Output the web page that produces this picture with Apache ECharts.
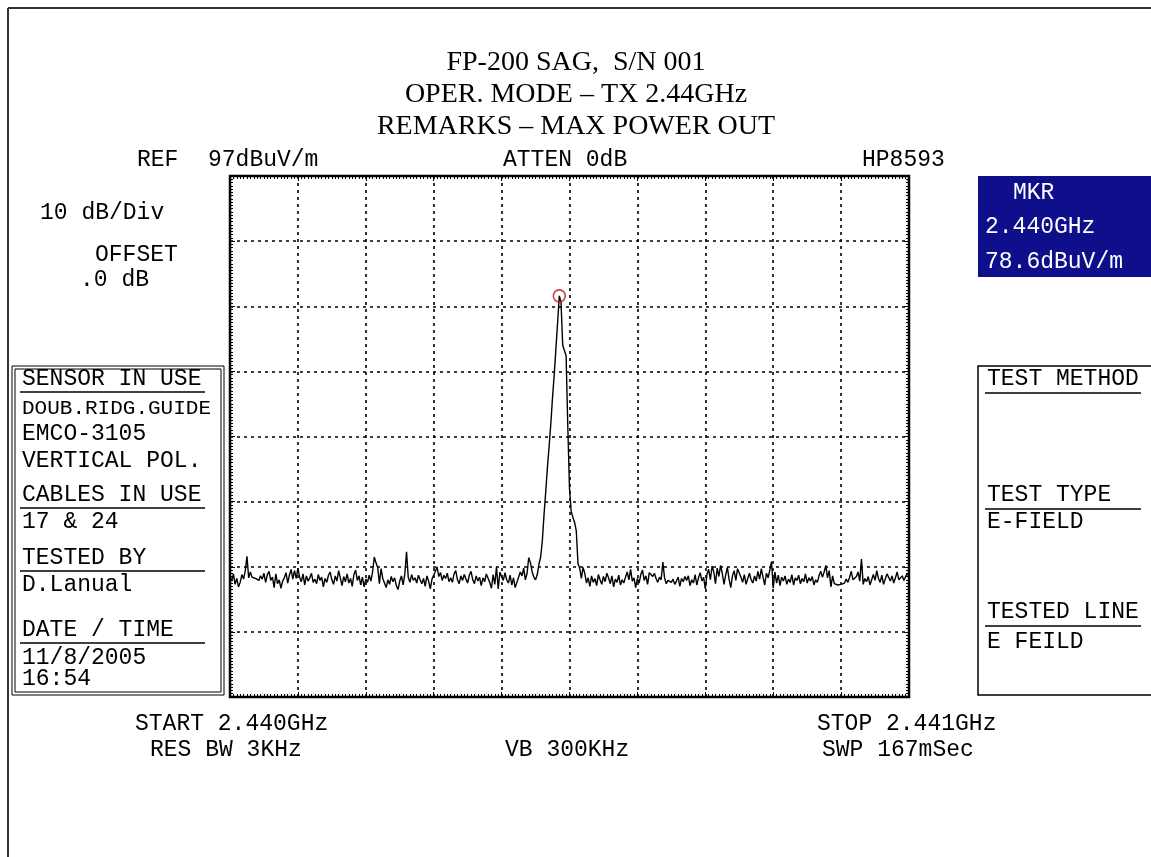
<!DOCTYPE html>
<html>
<head>
<meta charset="utf-8">
<script src="https://cdn.jsdelivr.net/npm/echarts@6/dist/echarts.min.js"></script>
<style>
html,body{margin:0;padding:0;background:#fff;}
#c{width:1151px;height:857px;}
</style>
</head>
<body>
<div id="c"></div>
<script>
// ---- Data ----
const titleLines = ['FP-200 SAG,  S/N 001', 'OPER. MODE \u2013 TX 2.44GHz', 'REMARKS \u2013 MAX POWER OUT'];
const startGHz = 2.440;
const stopGHz = 2.441;
const refLevel = 97;      // dBuV/m, top of screen
const dbPerDiv = 10;
const numYDiv = 8;
const numXDiv = 10;
const markerFreqLabel = '2.440GHz';
const markerLevelLabel = '78.6dBuV/m';
const traceLevels = [
35.6,34.8,35.9,34.3,35.2,33.9,34.6,35.8,35.1,36.4,38.6,35.3,36.2,35.4,35.7,35.2,35.5,34.9,35.6,35.1,
36.0,34.6,35.8,36.3,34.9,35.4,33.8,35.9,34.4,35.0,33.7,34.8,35.3,36.1,34.5,35.7,36.6,35.1,36.4,35.2,
36.8,35.4,34.7,35.9,34.2,35.6,34.8,35.3,36.0,34.6,35.1,34.4,35.8,34.9,35.4,33.9,35.2,34.6,35.7,36.2,
35.0,34.3,35.6,34.8,36.4,35.3,34.1,35.5,34.7,35.9,34.5,35.2,34.0,35.8,36.5,34.9,35.6,34.2,35.4,33.9,
35.1,34.6,35.7,34.8,36.2,38.5,37.6,36.9,34.4,36.7,35.2,34.9,33.8,35.0,34.3,35.5,34.7,35.3,34.1,33.5,
34.8,35.6,34.2,35.9,39.3,35.4,34.6,35.8,34.9,35.3,34.5,35.7,35.0,34.4,35.2,34.0,35.6,34.8,33.6,35.1,
35.4,36.3,37.0,35.5,36.1,34.9,35.7,35.2,36.0,34.7,35.3,34.6,35.9,36.4,35.0,34.4,35.6,34.9,35.8,35.1,
34.5,35.7,36.3,35.0,34.4,35.6,34.8,35.4,34.1,35.3,34.7,35.9,36.2,34.6,33.7,35.8,34.3,37.0,33.6,36.2,
35.5,34.9,36.1,35.0,34.5,35.7,34.2,35.3,33.8,34.6,35.4,36.2,35.6,36.8,35.0,36.0,38.4,37.6,36.2,35.4,
35.0,35.8,37.4,38.5,41.0,45.0,48.5,52.3,55.5,59.0,63.0,66.5,70.5,74.5,78.6,77.6,71.0,70.2,69.4,58.5,
49.0,45.5,44.6,43.8,42.5,37.5,36.8,35.2,36.9,36.0,34.5,35.3,34.0,35.6,34.6,35.2,34.1,35.8,35.0,34.3,
35.5,34.7,36.0,35.3,34.4,35.6,33.9,35.1,34.6,35.7,34.2,35.0,34.5,35.4,36.2,35.0,36.6,34.8,35.3,33.8,
35.2,34.5,35.8,36.5,34.9,35.6,34.3,36.1,35.9,35.5,36.0,35.2,34.6,35.4,35.0,37.7,35.3,34.4,34.9,35.2,
34.6,35.1,34.3,34.8,35.4,34.0,35.2,34.7,35.5,34.9,35.6,34.1,35.0,34.5,35.8,34.2,35.3,36.1,34.8,35.4,
33.6,35.9,36.6,35.0,37.1,36.2,34.4,36.8,35.5,37.2,36.0,34.3,35.7,36.9,35.1,33.8,35.6,36.4,34.9,36.7,
37.0,35.4,34.6,35.8,34.3,35.2,36.0,35.0,34.5,35.6,34.8,36.3,35.1,36.7,35.4,34.2,36.0,35.3,36.5,37.8,
33.7,36.2,34.5,35.7,34.1,35.4,34.8,35.6,34.3,35.1,34.6,35.8,34.2,35.3,34.9,35.7,34.4,35.2,34.7,35.9,
34.5,35.3,34.8,35.5,34.2,35.0,34.6,35.6,36.3,35.4,36.2,37.2,35.3,36.4,33.9,35.6,34.4,34.3,34.2,34.4,
34.3,34.2,34.5,35.1,34.6,35.4,36.3,35.0,35.3,35.5,36.2,34.8,38.2,34.3,35.2,34.7,35.5,34.2,35.0,35.8,
34.9,36.4,35.2,34.6,35.7,34.3,35.1,35.9,35.4,34.8,35.6,34.5,35.3,36.2,35.0,34.7,35.6,34.9,35.5,36.0,
35.4
];
const leftPanel = [
  {t:'SENSOR IN USE', u:true}, {t:'DOUB.RIDG.GUIDE', s:21}, {t:'EMCO-3105'}, {t:'VERTICAL POL.'},
  {t:'CABLES IN USE', u:true}, {t:'17 & 24'}, {t:'TESTED BY', u:true}, {t:'D.Lanual'},
  {t:'DATE / TIME', u:true}, {t:'11/8/2005'}, {t:'16:54'}
];
const leftPanelY = [379, 408, 434, 461, 495, 522, 558, 585, 630, 658, 679];
const rightPanel = [
  {t:'TEST METHOD', u:true}, {t:'TEST TYPE', u:true}, {t:'E-FIELD'}, {t:'TESTED LINE', u:true}, {t:'E FEILD'}
];
const rightPanelY = [379, 495, 522, 612, 642];

// ---- Build ----
const N = traceLevels.length;
const step = (stopGHz - startGHz) / (N - 1);
const traceData = traceLevels.map((v, i) => [startGHz + i * step, v]);
let pk = 0;
traceLevels.forEach((v, i) => { if (v > traceLevels[pk]) pk = i; });
const bottomLevel = refLevel - dbPerDiv * numYDiv;

const MONO = '"Liberation Mono", "DejaVu Sans Mono", monospace';
const FS = 23;
function txt(x, y, s, color, size) {
  return {
    type: 'text', x: x, y: y,
    style: { text: s, font: (size || FS) + 'px ' + MONO, fill: color || '#000', textVerticalAlign: 'middle', textAlign: 'left' }
  };
}
const g = [];
// outer page frame
g.push({type:'line', shape:{x1:8,y1:8,x2:1160,y2:8}, style:{stroke:'#333', lineWidth:2}});
g.push({type:'line', shape:{x1:8,y1:8,x2:8,y2:870}, style:{stroke:'#333', lineWidth:2}});
// titles
titleLines.forEach((s, i) => {
  g.push({type:'text', x:576, y:63 + i*32, style:{text:s, font:'28px "Liberation Serif", serif', fill:'#000', textAlign:'center', textVerticalAlign:'middle'}});
});
// header
g.push(txt(137, 160, 'REF'));
g.push(txt(208, 160, '97dBuV/m'));
g.push(txt(503, 160, 'ATTEN 0dB'));
g.push(txt(862, 160, 'HP8593'));
g.push(txt(40, 213, '10 dB/Div'));
g.push(txt(95, 255, 'OFFSET'));
g.push(txt(80, 280, '.0 dB'));
// left panel
g.push({type:'rect', shape:{x:12,y:366,width:212,height:329}, style:{fill:'none', stroke:'#000', lineWidth:1}});
g.push({type:'rect', shape:{x:15,y:369,width:206,height:323}, style:{fill:'none', stroke:'#000', lineWidth:1}});
leftPanel.forEach((p, i) => {
  g.push(txt(22, leftPanelY[i], p.t, '#000', p.s));
  if (p.u) g.push({type:'line', shape:{x1:20,y1:leftPanelY[i]+13,x2:205,y2:leftPanelY[i]+13}, style:{stroke:'#000', lineWidth:1.5}});
});
// marker box
g.push({type:'rect', shape:{x:978,y:176,width:180,height:101}, style:{fill:'#0f0f8c'}});
g.push(txt(1013, 193, 'MKR', '#fff'));
g.push(txt(985, 227, markerFreqLabel, '#fff'));
g.push(txt(985, 262, markerLevelLabel, '#fff'));
// right panel
g.push({type:'rect', shape:{x:978,y:366,width:190,height:329}, style:{fill:'none', stroke:'#000', lineWidth:1.5}});
rightPanel.forEach((p, i) => {
  g.push(txt(987, rightPanelY[i], p.t));
  if (p.u) g.push({type:'line', shape:{x1:985,y1:rightPanelY[i]+14,x2:1141,y2:rightPanelY[i]+14}, style:{stroke:'#000', lineWidth:1.5}});
});
// bottom
g.push(txt(135, 724, 'START 2.440GHz'));
g.push(txt(150, 750, 'RES BW 3KHz'));
g.push(txt(505, 750, 'VB 300KHz'));
g.push(txt(817, 724, 'STOP 2.441GHz'));
g.push(txt(822, 750, 'SWP 167mSec'));

const tickStyle = { show: true, inside: true, length: 5, lineStyle: { color: '#000', width: 1 } };
const minorStyle = { show: true, splitNumber: 20, length: 3, lineStyle: { color: '#000', width: 1 } };
const dashed = { show: true, lineStyle: { color: '#000', width: 1.6, type: [3, 4] } };
function xAx(pos, main) {
  return { type: 'value', position: pos, min: startGHz, max: stopGHz, interval: (stopGHz - startGHz) / numXDiv,
    axisLine: { show: false }, axisLabel: { show: false }, axisTick: tickStyle, minorTick: minorStyle,
    splitLine: main ? dashed : { show: false } };
}
function yAx(pos, main) {
  return { type: 'value', position: pos, min: bottomLevel, max: refLevel, interval: dbPerDiv,
    axisLine: { show: false }, axisLabel: { show: false }, axisTick: tickStyle, minorTick: Object.assign({}, minorStyle, {splitNumber: 20}),
    splitLine: main ? dashed : { show: false } };
}

const chart = echarts.init(document.getElementById('c'), null, {renderer:'canvas'});
chart.setOption({
  animation: false,
  backgroundColor: '#fff',
  grid: { left: 230, top: 176, width: 679, height: 521, show: true, borderColor: '#000', borderWidth: 2.5, backgroundColor: '#fff' },
  xAxis: [xAx('bottom', true), xAx('top', false)],
  yAxis: [yAx('left', true), yAx('right', false)],
  series: [
    { type: 'line', data: traceData, showSymbol: false, symbol: 'none', lineStyle: { color: '#000', width: 1.4 }, z: 3 },
    { type: 'scatter', data: [traceData[pk]], symbol: 'circle', symbolSize: 12,
      itemStyle: { color: 'rgba(255,255,255,0)', borderColor: '#c01818', borderWidth: 1.6 }, z: 4 }
  ],
  graphic: g
});
</script>
</body>
</html>
